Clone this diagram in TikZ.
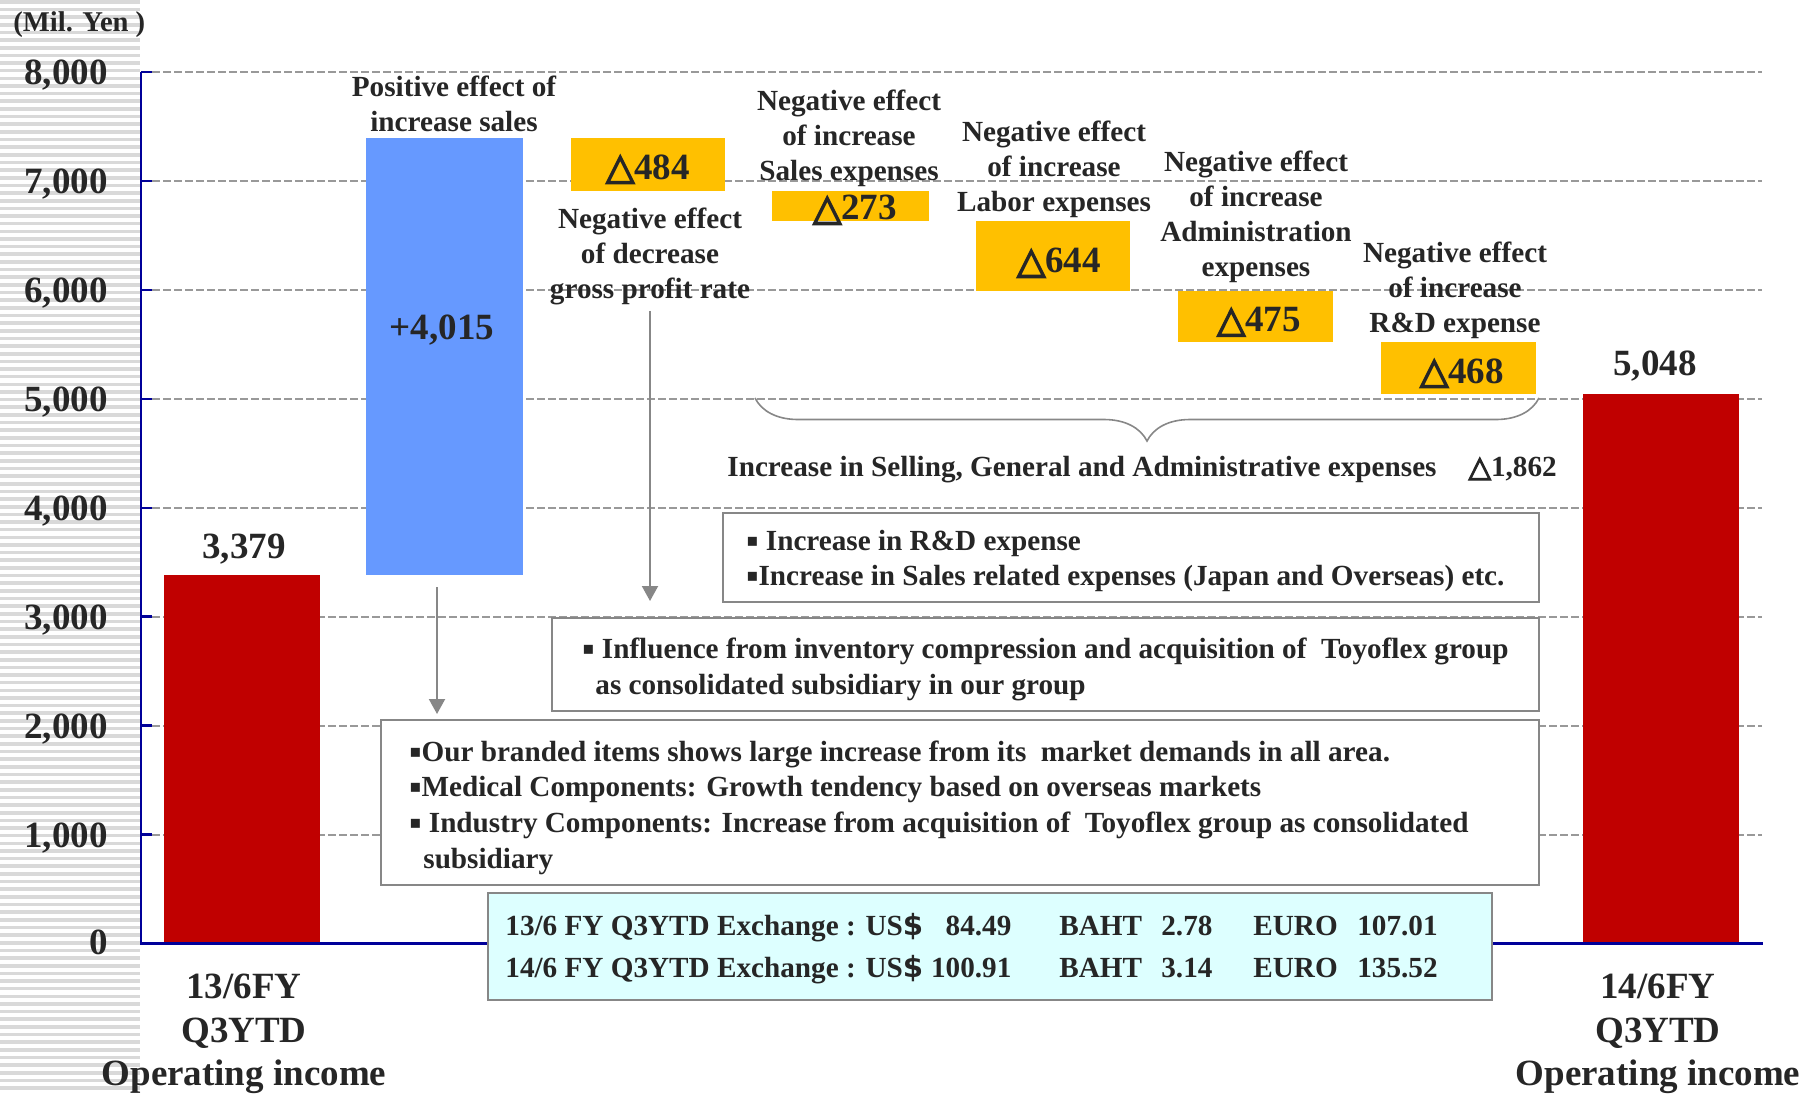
\documentclass[tikz,border=0pt]{standalone}
\usepackage{fontspec}
\setmainfont{Liberation Serif}
\newfontfamily\symfont{DejaVu Sans}
\newfontfamily\trifont[FakeBold=4]{DejaVu Sans}
\usetikzlibrary{arrows.meta,decorations.pathreplacing}

\definecolor{incred}{HTML}{C00000}
\definecolor{saleblue}{HTML}{6699FF}
\definecolor{deltaamber}{HTML}{FFC000}
\definecolor{ink}{HTML}{262626}
\definecolor{gridgray}{HTML}{999999}
\definecolor{boxgray}{HTML}{878787}
\definecolor{axisblue}{HTML}{000099}
\definecolor{stripegray}{HTML}{D9D9D9}
\definecolor{fxcyan}{HTML}{DDFFFF}

\newcommand{\dtri}{{\trifont\bfseries △}}
\newcommand{\sqbul}{\raisebox{2pt}{\symfont\fontsize{9}{9}\selectfont ▪}}
% one line of the exchange rate box
\newcommand{\fxrow}[4]{\makebox[253pt]{#1 FY Q3YTD Exchange : US{\symfont\bfseries\$}\hfill#2}\hspace{24pt}\makebox[51pt][l]{BAHT}\makebox[46pt][l]{#3}\makebox[52pt][l]{EURO}#4}

\begin{document}
\begin{tikzpicture}[x=0.5pt, y=-0.5pt,
    every node/.style={font=\bfseries\fontsize{14.6}{17.5}\selectfont, text=ink, inner sep=0pt},
    bigtxt/.style={font=\bfseries\fontsize{18.5}{21.75}\selectfont},
    note/.style={draw=boxgray, line width=1pt, fill=white},
    arr/.style={draw=boxgray, line width=1pt, -{Triangle[width=8pt,length=7.5pt]}},
    gridline/.style={gridgray, line width=1pt, dash pattern=on 4pt off 1.5pt}]
    \useasboundingbox (0,0) rectangle (1804,1093);

    % striped band behind the value axis
    \foreach \k in {0,...,142}
      \fill[stripegray] (0,{\k*7.65}) rectangle (140,{\k*7.65+3.6});

    % gridlines, 1,000 apart (0 at y=943.5)
    \foreach \k in {1,...,8}
      \draw[gridline] (152,{943.5-108.94*\k}) -- (1762,{943.5-108.94*\k});

    % waterfall bars
    \fill[incred]     (164,943.5) rectangle (320,575.4);  % 3,379
    \fill[saleblue]   (366,575.4) rectangle (523,138);    % +4,015
    \fill[deltaamber] (571,138)   rectangle (725,190.7);  % 484
    \fill[deltaamber] (772,190.7) rectangle (929,220.5);  % 273
    \fill[deltaamber] (976,220.5) rectangle (1130,290.6); % 644
    \fill[deltaamber] (1178,290.6) rectangle (1333,342.4); % 475
    \fill[deltaamber] (1381,342.4) rectangle (1536,393.5); % 468
    \fill[incred]     (1583,943.5) rectangle (1739,393.5); % 5,048

    % value axis + ticks
    \draw[axisblue, line width=1.2pt] (141,72) -- (141,943.5) -- (1763,943.5);
    \foreach \k in {0,...,8}
      \draw[axisblue, line width=1.2pt] (141,{943.5-108.94*\k}) -- (152,{943.5-108.94*\k});
    \node[bigtxt, anchor=east] (y0) at (108,942) {0};
    \foreach \k in {1,...,8}
      \node[bigtxt, anchor=east] (y\k) at (108,{946.5-108.94*\k}) {\k,000};
    \node[anchor=west, font=\bfseries\fontsize{14.3}{17}\selectfont] (unit) at (13,25) {(Mil. Yen )};

    % bar values
    \node[bigtxt] (v1) at (244,549) {3,379};
    \node[bigtxt] (v2) at (442,330) {+4,015};
    \node[bigtxt] (d1) at (648,169) {\dtri484};
    \node[bigtxt] (d2) at (855,210) {\dtri273};
    \node[bigtxt] (d3) at (1059,263) {\dtri644};
    \node[bigtxt] (d4) at (1259,322) {\dtri475};
    \node[bigtxt] (d5) at (1462,373) {\dtri468};
    \node[bigtxt] (v3) at (1655,366) {5,048};

    % effect labels
    \node[align=center] (lblpos) at (454,103.5) {Positive effect of\\increase sales};
    \node[align=center] (lblgp) at (650,256) {Negative effect\\of decrease\\gross profit rate};
    \node[align=center] (lblsales) at (849,138.5) {Negative effect\\of increase\\Sales expenses};
    \node[align=center] (lbllabor) at (1054,169) {Negative effect\\of increase\\Labor expenses};
    \node[align=center] (lbladmin) at (1256,217) {Negative effect\\of increase\\Administration\\expenses};
    \node[align=center] (lblrd) at (1455,290) {Negative effect\\of increase\\R\&D expense};

    % SG&A brace
    \draw[boxgray, line width=0.8pt, decorate, decoration={brace, mirror, amplitude=21.5pt}]
      (755,398) -- (1539,398);
    \node[anchor=west] (sga) at (727,469.5)
      {Increase in Selling, General and Administrative expenses\hspace{16pt}\dtri1,862};

    % comment boxes
    \node[note, minimum width=408pt, minimum height=44.5pt] (rdbox) at (1131,557.5) {};
    \node[anchor=west, align=left] (rdtext) at ([xshift=12pt, yshift=-1.8pt]rdbox.west)
      {\sqbul\ Increase in R\&D expense\\
       \sqbul Increase in Sales related expenses (Japan and Overseas) etc.};
    \node[note, minimum width=493.5pt, minimum height=46.5pt] (infbox) at (1045.5,664.5) {};
    \node[anchor=west, align=left, font=\bfseries\fontsize{14.6}{18}\selectfont] (inftext)
      at ([xshift=15.5pt, yshift=-2.3pt]infbox.west)
      {\sqbul\ Influence from inventory compression and acquisition of\ \ Toyoflex group\\
       \hspace*{6.5pt}as consolidated subsidiary in our group};
    \node[note, minimum width=579pt, minimum height=82.5pt] (ourbox) at (960,802.5) {};
    \node[anchor=west, align=left, font=\bfseries\fontsize{14.6}{17.8}\selectfont] (ourtext)
      at ([xshift=14.5pt, yshift=-2.5pt]ourbox.west)
      {\sqbul Our branded items shows large increase from its\ \ market demands in all area.\\
       \sqbul Medical Components: Growth tendency based on overseas markets\\
       \sqbul\ Industry Components: Increase from acquisition of\ \ Toyoflex group as consolidated\\
       \hspace*{7pt}subsidiary};
    \node[note, fill=fxcyan, minimum width=502pt, minimum height=53.5pt] (fxbox) at (990,946.5) {};
    \node[anchor=west, align=left, font=\bfseries\fontsize{14.6}{21}\selectfont] (fxtext)
      at ([xshift=9pt, yshift=-1.2pt]fxbox.west)
      {\fxrow{13/6}{84.49}{2.78}{107.01}\\
       \fxrow{14/6}{100.91}{3.14}{135.52}};

    % arrows to the comments
    \coordinate (posfoot) at (437,587);
    \draw[arr, shorten >=2.5pt] (posfoot) -- (posfoot |- ourbox.north);
    \draw[arr, shorten <=3pt, shorten >=8pt] (lblgp.south) -- (lblgp.south |- infbox.north);

    % categories
    \node[bigtxt, align=center] (cat1) at (244,1034) {13/6FY\\Q3YTD\\Operating income};
    \node[bigtxt, align=center] (cat2) at (1658,1034) {14/6FY\\Q3YTD\\Operating income};
  \end{tikzpicture}
\end{document}
